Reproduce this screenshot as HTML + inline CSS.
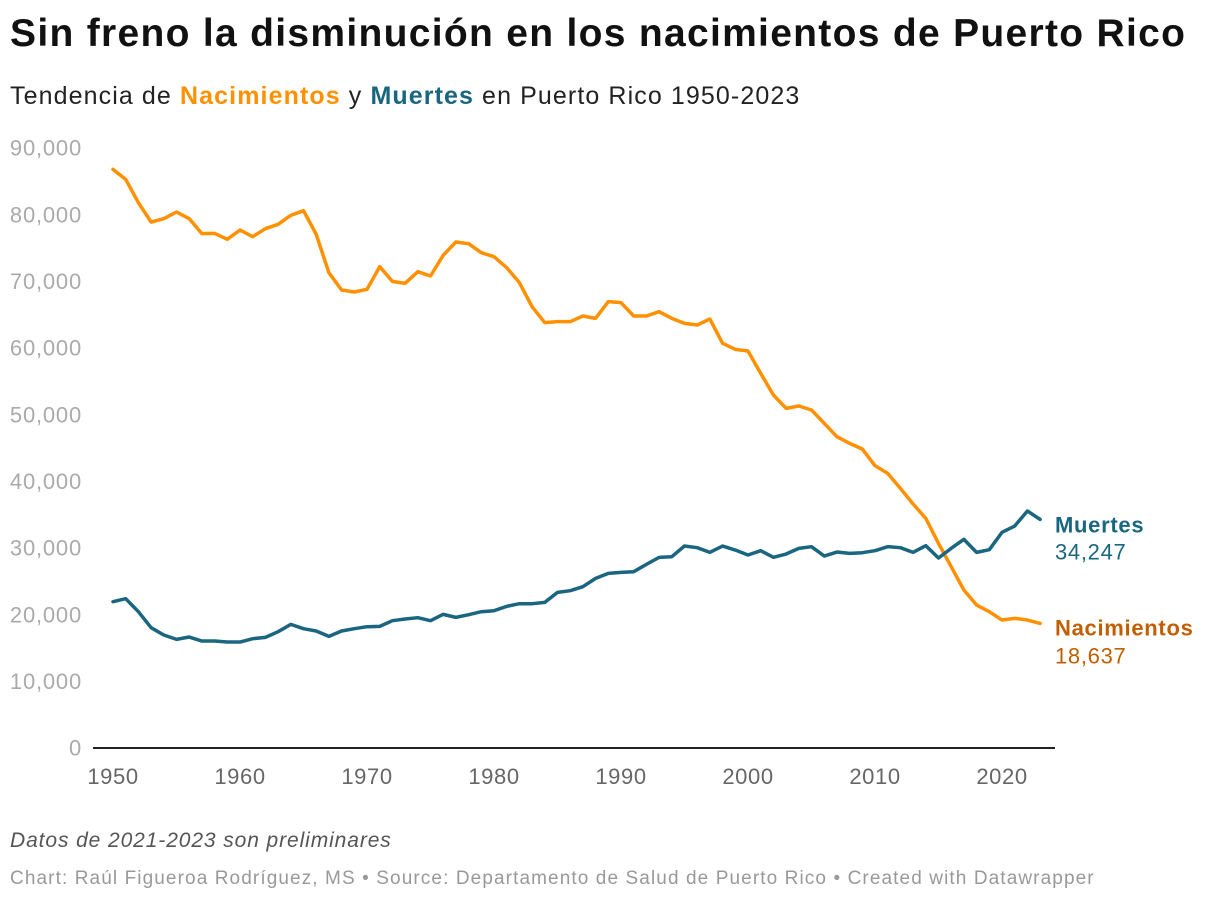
<!DOCTYPE html>
<html><head><meta charset="utf-8"><style>
body{margin:0;width:1220px;height:902px;background:#fff;font-family:"Liberation Sans",sans-serif;overflow:hidden;position:relative}
.t{position:absolute;white-space:nowrap}
</style></head><body>
<div class="t" style="left:10px;top:12px;font-size:39px;font-weight:bold;color:#111;letter-spacing:1.3px">Sin freno la disminución en los nacimientos de Puerto Rico</div>
<div class="t" style="left:10px;top:82px;font-size:25px;color:#222;letter-spacing:1.1px">Tendencia de <b style="color:#ff9000">Nacimientos</b> y <b style="color:#1a6680">Muertes</b> en Puerto Rico 1950-2023</div>
<svg id="c" width="1220" height="902" style="position:absolute;left:0;top:0"></svg>
<div class="t" style="left:10px;top:829px;font-size:21px;font-style:italic;color:#555;letter-spacing:0.9px">Datos de 2021-2023 son preliminares</div>
<div class="t" style="left:10px;top:868px;font-size:19px;color:#999;letter-spacing:1.1px">Chart: Raúl Figueroa Rodríguez, MS • Source: Departamento de Salud de Puerto Rico • Created with Datawrapper</div>
<script>
const years=[];for(let y=1950;y<=2023;y++)years.push(y);
const births=[86.75,85.25,81.75,78.85,79.35,80.35,79.35,77.1,77.15,76.25,77.65,76.65,77.85,78.5,79.85,80.55,77,71.25,68.65,68.35,68.75,72.15,69.95,69.65,71.4,70.75,73.85,75.85,75.6,74.25,73.65,72,69.75,66.15,63.75,63.9,63.9,64.75,64.4,66.9,66.75,64.75,64.75,65.4,64.4,63.65,63.4,64.3,60.65,59.75,59.5,56.15,52.9,50.9,51.25,50.65,48.65,46.65,45.65,44.8,42.3,41.15,38.9,36.55,34.4,30.65,27.15,23.65,21.4,20.4,19.15,19.4,19.15,18.637].map(v=>v*1000);
const deaths=[21.9,22.35,20.4,18,16.9,16.25,16.6,16,16,15.85,15.85,16.35,16.55,17.4,18.5,17.85,17.5,16.7,17.5,17.85,18.15,18.2,19.05,19.3,19.5,19.05,20,19.55,19.95,20.4,20.55,21.2,21.6,21.6,21.8,23.3,23.55,24.15,25.4,26.15,26.3,26.4,27.5,28.55,28.65,30.25,30,29.3,30.25,29.65,28.9,29.55,28.55,29.05,29.9,30.15,28.75,29.35,29.15,29.25,29.55,30.15,30,29.3,30.3,28.45,29.9,31.25,29.3,29.7,32.3,33.25,35.5,34.247].map(v=>v*1000);
const yTicks=[0,10000,20000,30000,40000,50000,60000,70000,80000,90000];
const xTicks=[1950,1960,1970,1980,1990,2000,2010,2020];
const svg=document.getElementById('c');const NS='http://www.w3.org/2000/svg';
const X=yr=>113+(yr-1950)*12.7;
const Y=v=>747.7-v*0.006667;
function mk(t,a){const e=document.createElementNS(NS,t);for(const k in a)e.setAttribute(k,a[k]);svg.appendChild(e);return e;}
yTicks.forEach(v=>{const e=mk('text',{x:82,y:Y(v)+8,'text-anchor':'end','font-size':22,'letter-spacing':0.8,fill:'#aaa','font-family':'Liberation Sans, sans-serif'});e.textContent=v.toLocaleString('en-US');

});
xTicks.forEach(v=>{const e=mk('text',{x:X(v),y:784,'text-anchor':'middle','font-size':22,'letter-spacing':0.6,fill:'#666','font-family':'Liberation Sans, sans-serif'});e.textContent=v;

});
const ax=mk('line',{x1:93,x2:1055,y1:748,y2:748,stroke:'#222','stroke-width':2});


function line(d,col,name){const p=mk('polyline',{points:d.map((v,i)=>X(years[i])+','+Y(v)).join(' '),fill:'none',stroke:col,'stroke-width':3.5,'stroke-linejoin':'round','stroke-linecap':'round'});

}
line(births,'#ff9000','births-line');
line(deaths,'#1a6680','deaths-line');
function lab(txt,x,y,col,bold,name){const e=mk('text',{x:x,y:y,'font-size':22,'letter-spacing':0.7,fill:col,'font-weight':bold?'bold':'normal','font-family':'Liberation Sans, sans-serif'});e.textContent=txt;

}
const ld=Y(deaths[deaths.length-1]), lb=Y(births[births.length-1]);
lab('Muertes',1055,ld+13,'#1a6680',true,'deaths-label');
lab(deaths[deaths.length-1].toLocaleString('en-US'),1055,ld+40,'#1a6680',false,'deaths-value');
lab('Nacimientos',1055,lb+12,'#c15f00',true,'births-label');
lab(Math.round(births[births.length-1]).toLocaleString('en-US'),1055,lb+40,'#c15f00',false,'births-value');
</script>
</body></html>
